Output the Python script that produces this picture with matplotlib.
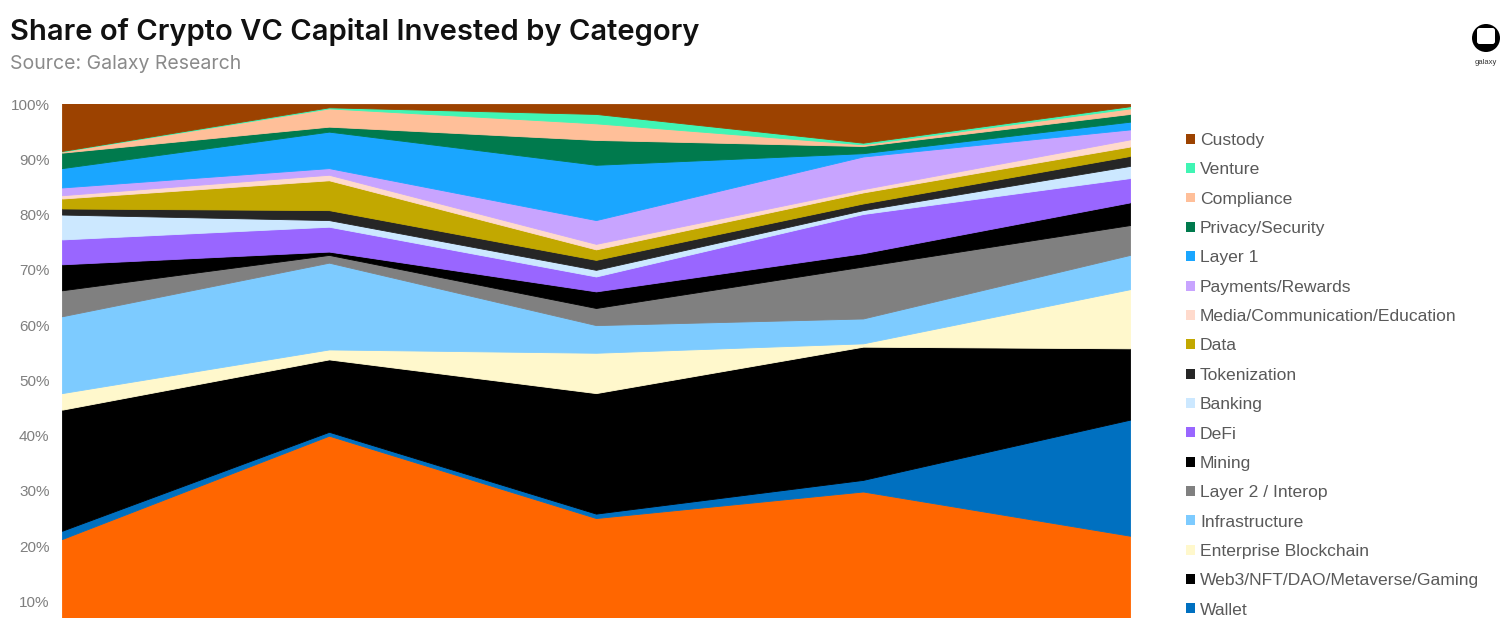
import matplotlib
matplotlib.use("Agg")
import matplotlib.pyplot as plt
from matplotlib.patches import Patch, Circle, FancyBboxPatch
import numpy as np

# ---- data (share of capital, %) ----
periods = ["P1", "P2", "P3", "P4", "P5"]

trading = [21.3, 40.0, 25.1, 29.9, 21.9]
wallet = [1.5, 0.7, 0.8, 2.1, 21.0]
web3 = [21.9, 13.1, 21.8, 24.1, 12.9]
enterprise = [3.0, 1.8, 7.3, 0.6, 10.7]
infrastructure = [13.9, 15.7, 5.0, 4.5, 6.2]
layer2 = [4.7, 1.4, 3.1, 9.4, 5.4]
mining = [4.7, 0.6, 3.0, 2.4, 4.1]
defi = [4.5, 4.5, 2.7, 7.1, 4.4]
banking = [4.5, 1.2, 1.2, 0.7, 2.2]
tokenization = [1.1, 1.8, 1.8, 1.2, 1.8]
data_cat = [1.8, 5.4, 1.9, 2.0, 1.7]
media = [0.6, 1.0, 1.0, 0.6, 1.3]
payments = [1.4, 1.2, 4.3, 5.9, 1.8]
layer1 = [3.5, 6.6, 10.0, 0.6, 1.4]
privacy = [2.8, 0.9, 4.5, 1.3, 1.4]
compliance = [0.2, 3.3, 3.0, 0.3, 1.0]
venture = [0.1, 0.2, 1.7, 0.3, 0.4]
custody = [8.6, 0.6, 1.8, 7.0, 0.4]

series_names = ["Trading", "Wallet", "Web3/NFT/DAO/Metaverse/Gaming", "Enterprise Blockchain",
                "Infrastructure", "Layer 2 / Interop", "Mining", "DeFi", "Banking",
                "Tokenization", "Data", "Media/Communication/Education", "Payments/Rewards",
                "Layer 1", "Privacy/Security", "Compliance", "Venture", "Custody"]
series_values = [trading, wallet, web3, enterprise, infrastructure, layer2, mining, defi,
                 banking, tokenization, data_cat, media, payments, layer1, privacy,
                 compliance, venture, custody]
series_colors = ["#FF6600", "#0070C0", "#000000", "#FFF8CC", "#7DCBFF", "#808080", "#000000",
                 "#9966FF", "#CCE8FF", "#262626", "#C2A800", "#FFDACC", "#C8A4FF",
                 "#1AA6FF", "#007A4D", "#FFBF99", "#40F5B4", "#9C4200"]

ytick_values = [0.1, 0.2, 0.3, 0.4, 0.5, 0.6, 0.7, 0.8, 0.9, 1.0]
ytick_labels = ["10%", "20%", "30%", "40%", "50%", "60%", "70%", "80%", "90%", "100%"]

# ---- figure ----
W, H = 1511, 619
fig = plt.figure(figsize=(W / 100, H / 100), dpi=100)
fig.patch.set_facecolor("white")
ax = fig.add_axes([62 / W, 1 - 617 / H, (1130 - 62) / W, (617 - 104) / H])

x = np.arange(len(periods))
vals = [np.array(v) / 100.0 for v in series_values]
polys = ax.stackplot(x, *vals, colors=series_colors, linewidth=0.6)
for p, c in zip(polys, series_colors):
    p.set_edgecolor(c)

ax.set_xlim(0, len(periods) - 1)
ax.set_ylim(0.072, 1.0)
ax.set_xticks([])
ax.set_yticks(ytick_values)
ax.set_yticklabels(ytick_labels, fontsize=11, color="#7f7f7f", family="Liberation Sans")
ax.tick_params(axis="y", length=0, pad=9)
for s in ax.spines.values():
    s.set_visible(False)

# ---- title ----
fig.text(10 / W, 1 - 32 / H, "Share of Crypto VC Capital Invested by Category",
         fontsize=21, family="Inter", weight="semibold", color="#111111", va="center", ha="left")
fig.text(10 / W, 1 - 64 / H, "Source: Galaxy Research",
         fontsize=14, family="Inter", color="#8a8a8a", va="center", ha="left")

# ---- legend (top of stack first) ----
legend_names = series_names[1:][::-1]
legend_colors = series_colors[1:][::-1]
handles = [Patch(facecolor=c, edgecolor="none", label=n) for n, c in zip(legend_names, legend_colors)]
fig.legend(handles=handles, loc="upper left", bbox_to_anchor=(1186 / W, 1 - 133 / H),
           frameon=False, prop={"family": "Liberation Sans", "size": 12.6},
           labelcolor="#595959", handlelength=0.5, handleheight=0.5, handletextpad=0.3,
           labelspacing=0.82, borderaxespad=0, borderpad=0)

# ---- logo ----
lx, ly, s = 1486, 38, 40
lax = fig.add_axes([(lx - s / 2) / W, 1 - (ly + s / 2) / H, s / W, s / H])
lax.set_xlim(-20, 20)
lax.set_ylim(-20, 20)
lax.axis("off")
lax.add_patch(Circle((0, 0), 14, facecolor="black", edgecolor="none"))
lax.add_patch(FancyBboxPatch((-9, -6), 18, 16, boxstyle="round,pad=0,rounding_size=2.5",
                             facecolor="white", edgecolor="none"))
fig.text(lx / W, 1 - 62 / H, "galaxy", fontsize=5.5, family="Liberation Sans",
         color="#333333", ha="center", va="center")

fig.savefig("out.png", dpi=100, facecolor="white")
